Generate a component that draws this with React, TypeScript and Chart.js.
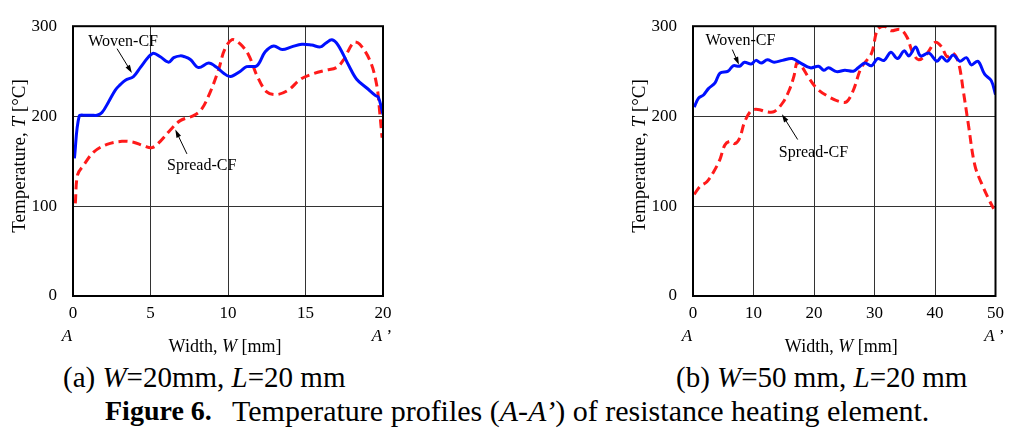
import React, { useEffect, useRef } from "react";
import { Chart, registerables } from "chart.js";

Chart.register(...registerables);

const SERIF = "'Liberation Serif', 'Times New Roman', serif";

// ---------- (a) W = 20 mm ----------
const aWovenW = [0.09, 0.4, 0.8, 1.2, 1.55, 1.87, 2.3, 2.73, 3.05, 3.38, 3.9, 4.34, 4.88, 5.2, 5.63, 6.17, 6.5, 6.92, 7.2, 7.57, 8.1, 8.75, 9.29, 9.7, 10.15, 10.8, 11.2, 11.87, 12.4, 12.95, 13.5, 14.1, 14.77, 15.4, 15.96, 16.3, 16.7, 17.1, 17.8, 18.3, 18.97, 19.5, 19.7, 20];
const aWovenT = [153, 200, 201, 201, 201, 204, 216, 229, 235, 240, 244, 254, 266, 270, 266, 260, 265, 267, 266, 263, 254, 259, 254, 248, 244, 250, 255, 256, 271.5, 278, 274, 277, 280, 279, 277, 281, 285, 279, 256, 241, 231, 223, 221, 202];
const aSpreadW = [0.15, 0.3, 0.69, 1.33, 2.19, 3.16, 3.9, 4.56, 5.1, 5.63, 6.28, 6.92, 7.78, 8.3, 8.86, 9.4, 9.76, 10.26, 10.8, 11.33, 11.87, 12.5, 13.16, 13.9, 14.67, 15.42, 16.28, 17.0, 17.46, 18.1, 18.5, 19.18, 19.6, 19.8, 19.94];
const aSpreadT = [103, 135, 145.5, 160, 168.6, 172, 171, 167, 165, 172, 184.6, 195, 200.6, 207.7, 227, 252, 273, 285, 280, 268, 245, 227, 224, 229, 241, 246.7, 251, 254, 262.7, 282, 280, 261, 234, 202, 176];
const aXTicks = [0, 5, 10, 15, 20];

// ---------- (b) W = 50 mm ----------
const bWovenW = [0.2, 0.92, 1.74, 2.55, 3.64, 4.46, 5.8, 6.63, 7.7, 8.5, 9.6, 10.4, 11.25, 12.3, 13.4, 14.8, 16.4, 17.8, 19.4, 20.76, 21.6, 22.4, 23.75, 25.1, 26.5, 27.3, 28.4, 29.5, 30.5, 31.6, 32.7, 33.8, 34.9, 35.7, 36.8, 37.6, 39, 40.3, 41.1, 42, 43, 44.1, 45.2, 46, 47.1, 48.2, 49.3, 50];
const bWovenT = [210, 220, 223.5, 230.6, 237, 247.7, 250, 256, 255.5, 260, 258, 262, 259, 262.6, 260, 262, 264, 259, 253.7, 255.5, 251, 253.7, 249.5, 251, 250, 253.7, 259, 256, 264, 262, 271, 264, 272.6, 267, 277, 267, 270, 261, 266, 261, 268, 261, 265, 257, 261, 246.6, 239.5, 224];
const bSpreadW = [0.2, 1.2, 2.3, 3.4, 4.46, 5.27, 6.1, 6.9, 7.7, 8.5, 9.6, 10.7, 12.07, 13.4, 14.8, 15.9, 16.7, 17.2, 17.8, 19.1, 20.5, 22.4, 24.3, 25.4, 26.5, 27.8, 29.5, 30.5, 31.6, 32.7, 34.3, 35.4, 36.25, 37.3, 38.7, 40.05, 41.1, 42, 43, 43.9, 44.7, 45.5, 46.6, 47.9, 49, 49.7];
const bSpreadT = [113, 122, 127, 138, 152, 168, 172, 169.4, 175.4, 193, 206, 207.5, 205, 205, 214.6, 228.8, 244.8, 259.8, 257, 243, 230.6, 221.7, 216, 216, 228.8, 253.7, 269.8, 296.4, 300, 295, 296.4, 287.5, 271.5, 262.6, 269.8, 282, 277, 266, 269.8, 259, 227, 191.5, 145, 122, 106, 97];
const bXTicks = [0, 10, 20, 30, 40, 50];

const yTicks = [0, 100, 200, 300];

type Note = { text: string; tx: number; ty: number; ax0: number; ay0: number; ax1: number; ay1: number };

const aNotes: Note[] = [
  { text: "Woven-CF", tx: 3.23, ty: 283, ax0: 2.84, ay0: 275, ax1: 3.8, ay1: 248 },
  { text: "Spread-CF", tx: 8.3, ty: 145, ax0: 7.35, ay0: 158, ax1: 6.6, ay1: 185 },
];
const bNotes: Note[] = [
  { text: "Woven-CF", tx: 7.84, ty: 284, ax0: 6.5, ay0: 274, ax1: 7.6, ay1: 257 },
  { text: "Spread-CF", tx: 19.9, ty: 159, ax0: 17.3, ay0: 174, ax1: 14.7, ay1: 202 },
];

type Run = [string, boolean];

function drawRuns(ctx: CanvasRenderingContext2D, runs: Run[], size: number, cx: number, cy: number) {
  const fonts = runs.map(([, it]) => `${it ? "italic " : ""}${size}px ${SERIF}`);
  let total = 0;
  const widths = runs.map(([t], i) => {
    ctx.font = fonts[i];
    const w = ctx.measureText(t).width;
    total += w;
    return w;
  });
  let x = cx - total / 2;
  ctx.textBaseline = "middle";
  ctx.textAlign = "left";
  runs.forEach(([t], i) => {
    ctx.font = fonts[i];
    ctx.fillText(t, x, cy);
    x += widths[i];
  });
}

function makeExtras(notes: Note[]) {
  return {
    id: "extras",
    afterDraw(chart: any) {
      const { ctx, chartArea: ca, scales } = chart;
      const xs = scales.x;
      const ys = scales.y;
      ctx.save();
      ctx.fillStyle = "#000";
      ctx.strokeStyle = "#000";
      // frame
      ctx.lineWidth = 2;
      ctx.strokeRect(ca.left, ca.top, ca.right - ca.left, ca.bottom - ca.top);
      // annotations
      notes.forEach((n) => {
        drawRuns(ctx, [[n.text, false]], 16, xs.getPixelForValue(n.tx), ys.getPixelForValue(n.ty));
        const x0 = xs.getPixelForValue(n.ax0);
        const y0 = ys.getPixelForValue(n.ay0);
        const x1 = xs.getPixelForValue(n.ax1);
        const y1 = ys.getPixelForValue(n.ay1);
        const ang = Math.atan2(y1 - y0, x1 - x0);
        ctx.lineWidth = 1;
        ctx.beginPath();
        ctx.moveTo(x0, y0);
        ctx.lineTo(x1 - 5 * Math.cos(ang), y1 - 5 * Math.sin(ang));
        ctx.stroke();
        ctx.beginPath();
        ctx.moveTo(x1, y1);
        ctx.lineTo(x1 - 8 * Math.cos(ang) + 2.5 * Math.sin(ang), y1 - 8 * Math.sin(ang) - 2.5 * Math.cos(ang));
        ctx.lineTo(x1 - 8 * Math.cos(ang) - 2.5 * Math.sin(ang), y1 - 8 * Math.sin(ang) + 2.5 * Math.cos(ang));
        ctx.closePath();
        ctx.fill();
      });
      // axis titles & A / A'
      drawRuns(ctx, [["A", true]], 17, ca.left - 6, 337);
      drawRuns(ctx, [["A", true], [" \u2019", false]], 17, ca.right - 1, 337);
      drawRuns(ctx, [["Width, ", false], ["W", true], [" [mm]", false]], 18, (ca.left + ca.right) / 2 - 3, 347);
      ctx.translate(20, 156);
      ctx.rotate(-Math.PI / 2);
      drawRuns(ctx, [["Temperature, ", false], ["T", true], [" [\u00b0C]", false]], 19, 0, 0);
      ctx.restore();
    },
  };
}

type Spec = {
  left: number;
  width: number;
  padRight: number;
  xMax: number;
  xTicks: number[];
  wovenW: number[];
  wovenT: number[];
  spreadW: number[];
  spreadT: number[];
  notes: Note[];
};

const toPts = (xs: number[], ys: number[]) => xs.map((x, i) => ({ x, y: ys[i] }));

function Panel({ spec }: { spec: Spec }) {
  const ref = useRef<HTMLCanvasElement>(null);
  useEffect(() => {
    const tickFont = { family: SERIF, size: 17 };
    const chart = new Chart(ref.current!, {
      type: "line",
      data: {
        datasets: [
          {
            label: "Woven-CF",
            data: toPts(spec.wovenW, spec.wovenT),
            borderColor: "#0010ff",
            borderWidth: 3,
            pointRadius: 0,
            tension: 0.35,
            fill: false,
          },
          {
            label: "Spread-CF",
            data: toPts(spec.spreadW, spec.spreadT),
            borderColor: "#ff1a1a",
            borderWidth: 3,
            borderDash: [9, 5],
            pointRadius: 0,
            tension: 0.35,
            fill: false,
          },
        ],
      },
      options: {
        responsive: false,
        animation: false,
        events: [],
        layout: { padding: { left: 0, right: spec.padRight, top: 15, bottom: 0 } },
        plugins: { legend: { display: false }, tooltip: { enabled: false } },
        scales: {
          x: {
            type: "linear",
            min: 0,
            max: spec.xMax,
            afterBuildTicks: (s: any) => {
              s.ticks = spec.xTicks.map((v) => ({ value: v }));
            },
            afterFit: (s: any) => {
              s.height = 64;
            },
            grid: { color: "#333", lineWidth: 1, drawTicks: false },
            border: { display: false },
            ticks: { color: "#000", font: tickFont, padding: 7, maxRotation: 0 },
          },
          y: {
            type: "linear",
            min: 0,
            max: 300,
            afterBuildTicks: (s: any) => {
              s.ticks = yTicks.map((v) => ({ value: v }));
            },
            afterFit: (s: any) => {
              s.width = 73;
            },
            grid: { color: "#333", lineWidth: 1, drawTicks: false },
            border: { display: false },
            ticks: { color: "#000", font: tickFont, padding: 16 },
          },
        },
      },
      plugins: [makeExtras(spec.notes)],
    } as any);
    return () => chart.destroy();
  }, []);
  return (
    <canvas
      ref={ref}
      width={spec.width}
      height={360}
      style={{ position: "absolute", left: spec.left, top: 0, width: spec.width, height: 360, display: "block" }}
    />
  );
}

const specA: Spec = {
  left: 0,
  width: 400,
  padRight: 17,
  xMax: 20,
  xTicks: aXTicks,
  wovenW: aWovenW,
  wovenT: aWovenT,
  spreadW: aSpreadW,
  spreadT: aSpreadT,
  notes: aNotes,
};
const specB: Spec = {
  left: 620,
  width: 391,
  padRight: 12,
  xMax: 50,
  xTicks: bXTicks,
  wovenW: bWovenW,
  wovenT: bWovenT,
  spreadW: bSpreadW,
  spreadT: bSpreadT,
  notes: bNotes,
};

export default function App() {
  const cap: React.CSSProperties = {
    position: "absolute",
    fontFamily: SERIF,
    fontSize: 29,
    lineHeight: "29px",
    whiteSpace: "pre",
    color: "#000",
  };
  return (
    <div style={{ position: "absolute", left: 0, top: 0, width: 1011, height: 437, background: "#fff", overflow: "hidden" }}>
      <Panel spec={specA} />
      <Panel spec={specB} />
      <div style={{ ...cap, left: 63, top: 363 }}>
        (a) <i>W</i>=20mm, <i>L</i>=20 mm
      </div>
      <div style={{ ...cap, left: 676, top: 363 }}>
        (b) <i>W</i>=50 mm, <i>L</i>=20 mm
      </div>
      <div style={{ ...cap, left: 105, top: 396, fontWeight: "bold", fontSize: 28 }}>Figure 6.</div>
      <div style={{ ...cap, left: 232, top: 396, fontSize: 30 }}>
        Temperature profiles (<i>A</i>-<i>A{"\u2019"}</i>) of resistance heating element.
      </div>
    </div>
  );
}
